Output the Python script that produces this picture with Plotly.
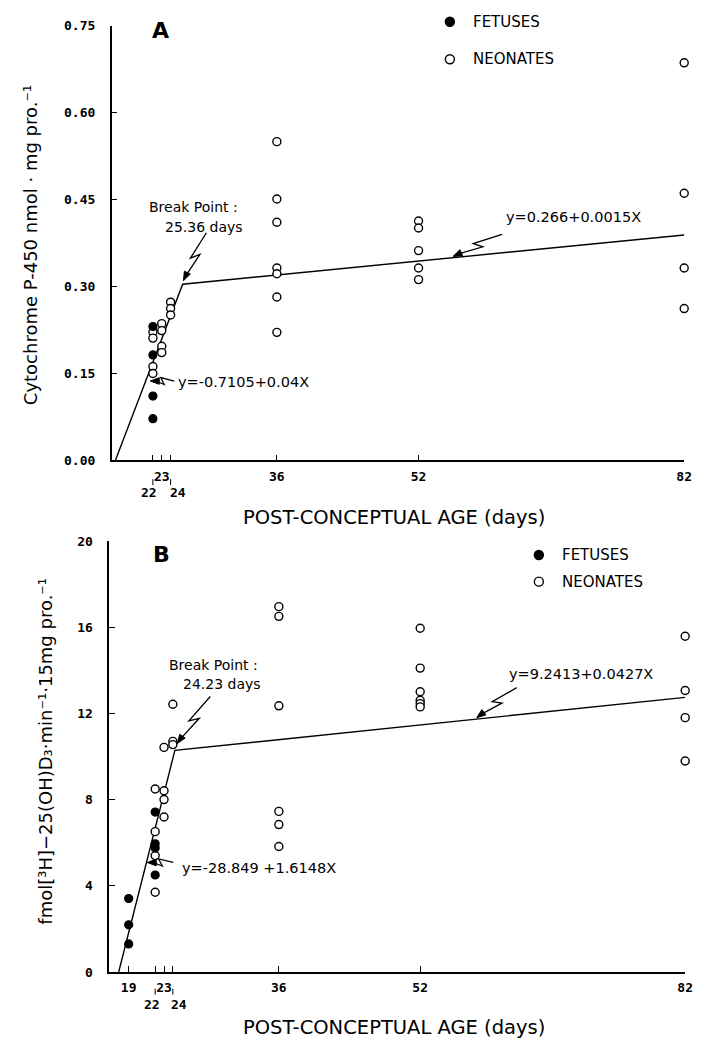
import math
import plotly.graph_objects as go

W, H = 709, 1047

# ---------------- Panel A data (Cytochrome P-450) ----------------
a_fet_x = [22, 22, 22, 22]
a_fet_y = [0.231, 0.182, 0.111, 0.072]
a_neo_x = [22, 22, 22, 22, 23, 23, 23, 23, 24, 24, 24,
           36, 36, 36, 36, 36, 36, 36, 52, 52, 52, 52, 52, 82, 82, 82, 82]
a_neo_y = [0.221, 0.211, 0.162, 0.150, 0.236, 0.224, 0.197, 0.186, 0.273, 0.262, 0.251,
           0.550, 0.451, 0.411, 0.332, 0.322, 0.282, 0.221,
           0.413, 0.401, 0.362, 0.332, 0.312,
           0.686, 0.461, 0.332, 0.262]
a_line_x = [17.76, 25.36, 82]
a_line_y = [0.0, 0.304, 0.389]
a_yticks = [0.0, 0.15, 0.30, 0.45, 0.60, 0.75]
a_xticks = [23, 36, 52, 82]
a_xtick_text = ["23", "36", "52", "82"]
a_xticks_minor = [22, 24]

# ---------------- Panel B data (25-hydroxylase) ----------------
b_fet_x = [19, 19, 19, 22, 22, 22, 22]
b_fet_y = [3.41, 2.19, 1.30, 7.42, 5.95, 5.75, 4.50]
b_neo_x = [22, 22, 22, 22, 23, 23, 23, 23, 24, 24, 24,
           36, 36, 36, 36, 36, 36, 52, 52, 52, 52, 52, 52, 82, 82, 82, 82]
b_neo_y = [8.49, 6.51, 5.40, 3.70, 10.42, 8.41, 8.00, 7.19, 12.42, 10.70, 10.55,
           16.95, 16.50, 12.35, 7.45, 6.84, 5.82,
           15.95, 14.10, 13.00, 12.60, 12.45, 12.30,
           15.58, 13.06, 11.80, 9.79]
b_line_x = [17.87, 24.23, 82]
b_line_y = [0.0, 10.28, 12.74]
b_yticks = [0, 4, 8, 12, 16, 20]
b_xticks = [19, 23, 36, 52, 82]
b_xtick_text = ["19", "23", "36", "52", "82"]
b_xticks_minor = [22, 24]


def P(px, py):
    return px / W, 1 - py / H


TXT = "DejaVu Sans"
MONO = "DejaVu Sans Mono"

fig = go.Figure()

mk_open = dict(symbol="circle", size=8, color="white", line=dict(color="black", width=1.4))
mk_fill = dict(symbol="circle", size=8, color="black", line=dict(color="black", width=1.2))

# Panel A
fig.add_trace(go.Scatter(x=a_line_x, y=a_line_y, mode="lines", line=dict(color="black", width=1.4),
                         xaxis="x", yaxis="y", showlegend=False, cliponaxis=False))
fig.add_trace(go.Scatter(x=a_neo_x, y=a_neo_y, mode="markers", marker=mk_open, name="NEONATES",
                         xaxis="x", yaxis="y", showlegend=False, cliponaxis=False))
fig.add_trace(go.Scatter(x=a_fet_x, y=a_fet_y, mode="markers", marker=mk_fill, name="FETUSES",
                         xaxis="x", yaxis="y", showlegend=False, cliponaxis=False))
# Panel B
fig.add_trace(go.Scatter(x=b_line_x, y=b_line_y, mode="lines", line=dict(color="black", width=1.4),
                         xaxis="x2", yaxis="y2", showlegend=False, cliponaxis=False))
fig.add_trace(go.Scatter(x=b_neo_x, y=b_neo_y, mode="markers", marker=mk_open, name="NEONATES",
                         xaxis="x2", yaxis="y2", showlegend=False, cliponaxis=False))
fig.add_trace(go.Scatter(x=b_fet_x, y=b_fet_y, mode="markers", marker=mk_fill, name="FETUSES",
                         xaxis="x2", yaxis="y2", showlegend=False, cliponaxis=False))

axis_common = dict(showline=True, linecolor="black", linewidth=1.5, ticks="inside", ticklen=6,
                   tickwidth=1.3, tickcolor="black", showgrid=False, zeroline=False,
                   tickfont=dict(family=MONO, size=13, color="black", weight="bold"))
minor_x = dict(ticks="inside", ticklen=6, tickwidth=1.3, tickcolor="black", showgrid=False)

fig.update_layout(
    width=W, height=H, margin=dict(l=0, r=0, t=0, b=0),
    paper_bgcolor="white", plot_bgcolor="white", showlegend=False,
    xaxis=dict(domain=[113 / W, 692 / W], range=[17.35, 82], anchor="y",
               tickvals=a_xticks, ticktext=a_xtick_text, ticklabelstandoff=3,
               minor=dict(tickvals=a_xticks_minor, **minor_x), **axis_common),
    yaxis=dict(domain=[1 - 460 / H, 1 - 19 / H], range=[0, 0.75], anchor="x",
               tickvals=a_yticks, ticktext=[f"{v:.2f}" for v in a_yticks], ticklabelstandoff=12,
               **axis_common),
    xaxis2=dict(domain=[110.5 / W, 693 / W], range=[16.8, 82], anchor="y2",
                tickvals=b_xticks, ticktext=b_xtick_text, ticklabelstandoff=3,
                minor=dict(tickvals=b_xticks_minor, **minor_x), **axis_common),
    yaxis2=dict(domain=[1 - 979 / H, 1 - 541.7 / H], range=[0, 20], anchor="x2",
                tickvals=b_yticks, ticktext=[str(v) for v in b_yticks], ticklabelstandoff=12,
                **axis_common),
)

ann = []
shapes = []


def text(px, py, s, size=14, xanchor="left", family=TXT, bold=False, angle=0):
    x, y = P(px, py)
    ann.append(dict(x=x, y=y, xref="paper", yref="paper", text=s, showarrow=False,
                    xanchor=xanchor, yanchor="middle", textangle=angle,
                    font=dict(family=family, size=size, color="black",
                              weight="bold" if bold else "normal")))


def bolt(xr, yr, x, y, dx, dy):
    # dx, dy: tail offset from tip in screen pixels (dy down positive)
    L = math.hypot(dx, dy)
    ux, uy = -dx / L, -dy / L
    nx, ny = -uy, ux

    def p(t, s=0.0):
        return (dx - t * dx + s * nx, dy - t * dy + s * ny)

    pts = [p(0), p(0.56, 3.5), p(0.42, -3.5), (-ux * 6, -uy * 6)]
    path = "M " + " L ".join(f"{a:.2f},{-b:.2f}" for a, b in pts)
    shapes.append(dict(type="path", xref=xr, yref=yr, xsizemode="pixel", ysizemode="pixel",
                       xanchor=x, yanchor=y, path=path, line=dict(color="black", width=1.3)))
    hx, hy = -ux * 9, -uy * 9
    tri = [(0, 0), (hx + nx * 3.3, hy + ny * 3.3), (hx - nx * 3.3, hy - ny * 3.3)]
    tpath = "M " + " L ".join(f"{a:.2f},{-b:.2f}" for a, b in tri) + " Z"
    shapes.append(dict(type="path", xref=xr, yref=yr, xsizemode="pixel", ysizemode="pixel",
                       xanchor=x, yanchor=y, path=tpath, fillcolor="black",
                       line=dict(color="black", width=1)))


# Panel labels
text(162, 24, "A", size=22, xanchor="center", bold=True)
text(163, 555, "B", size=22, xanchor="center", bold=True)

# Axis titles
text(398, 518, "POST-CONCEPTUAL AGE (days)", size=19.5, xanchor="center")
text(398, 1035, "POST-CONCEPTUAL AGE (days)", size=19.5, xanchor="center")
text(31, 242, "Cytochrome P-450 nmol · mg pro.\u207b\u00b9", size=18, xanchor="center", angle=-90)
text(46, 755, "fmol[\u00b3H]\u221225(OH)D\u2083\u00b7min\u207b\u00b9\u00b715mg pro.\u207b\u00b9",
     size=18, xanchor="center", angle=-90)

# Legends
for (cx, cy, filled, label) in [(455, 15, True, "FETUSES"), (455, 53, False, "NEONATES"),
                                (545, 556, True, "FETUSES"), (545, 583, False, "NEONATES")]:
    x, y = P(cx, cy)
    shapes.append(dict(type="circle", xref="paper", yref="paper", xsizemode="pixel", ysizemode="pixel",
                       xanchor=x, yanchor=y, x0=-4.5, x1=4.5, y0=-4.5, y1=4.5,
                       fillcolor="black" if filled else "white", line=dict(color="black", width=1.4)))
    text(cx + 21, cy, label, size=15)

# Annotation texts
text(149, 203, "Break Point :", size=14)
text(165, 223, "25.36 days", size=14)
text(178, 380, "y=-0.7105+0.04X", size=14.5)
text(510, 213, "y=0.266+0.0015X", size=14.5)
text(169, 668, "Break Point :", size=14)
text(183, 687, "24.23 days", size=14)
text(182, 874, "y=-28.849 +1.6148X", size=14.5)
text(513, 677, "y=9.2413+0.0427X", size=14.5)

# Lightning arrows
bolt("x", "y", 25.45, 0.31, 23, -48)
bolt("x", "y", 21.7, 0.137, 24, 0)
bolt("x", "y", 55.9, 0.352, 49, -22)
bolt("x2", "y2", 24.5, 10.6, 33, -47)
bolt("x2", "y2", 21.1, 5.08, 26, 0)
bolt("x2", "y2", 58.4, 11.8, 40, -30)

# Second-row tick labels (22, 24) with small connectors
for xr, tick, lab, row_py, con_py, shift in [("x", 22, "22", 493, 482, -4), ("x", 24, "24", 493, 482, 7),
                                              ("x2", 22, "22", 1012, 999, -3), ("x2", 24, "24", 1012, 999, 6)]:
    _, y = P(0, row_py)
    ann.append(dict(x=tick, y=y, xref=xr, yref="paper", text=lab, showarrow=False,
                    xanchor="center", yanchor="middle", xshift=shift,
                    font=dict(family=MONO, size=13, color="black", weight="bold")))
    _, y0 = P(0, con_py - 3)
    _, y1 = P(0, con_py + 3)
    shapes.append(dict(type="line", xref=xr, yref="paper", x0=tick, x1=tick, y0=y0, y1=y1,
                       line=dict(color="black", width=1)))

fig.update_layout(annotations=ann, shapes=shapes)
fig.write_html("out.html")
